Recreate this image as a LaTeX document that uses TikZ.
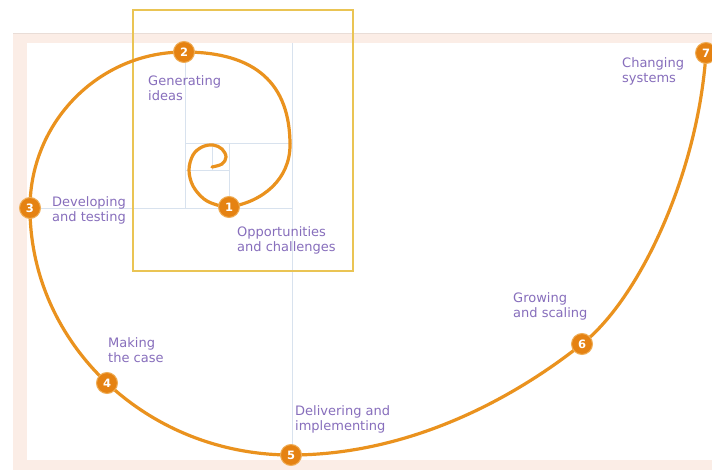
\documentclass[tikz,border=0pt]{standalone}
\usepackage{fontspec}
\setmainfont{DejaVu Sans}
\definecolor{spiral}{RGB}{234,146,30}
\definecolor{badge}{RGB}{229,130,18}
\definecolor{gold}{RGB}{234,196,84}
\definecolor{gridline}{RGB}{216,226,238}
\definecolor{frame}{RGB}{251,237,230}
\definecolor{labeltext}{RGB}{135,110,188}
\tikzset{
	stage/.style={circle,fill=badge,draw=spiral!75!white,line width=1pt,text=white,inner sep=0pt,minimum size=21pt,font=\fontsize{11.5}{11.5}\selectfont\bfseries},
	caption/.style={anchor=north west,inner sep=0pt,align=left,text=labeltext,font=\fontsize{13}{15.5}\selectfont}
}
\begin{document}
\begin{tikzpicture}[x=1pt,y=-1pt]
	\useasboundingbox (0,0) rectangle (712,470);

	% Draw background frame
	\fill[frame] (13,33) rectangle (712,470);
	\draw[frame!85!gray,line width=0.6pt] (13,33) -- (712,33);
	\fill[white] (27,43) rectangle (712,460);

	% Draw square grid
	\draw[gridline,line width=0.8pt] (27,208) -- (292,208) (292,43) -- (292,460) (185,43) -- (185,208) (185,143) -- (292,143) (229,143) -- (229,208) (185,170) -- (229,170) (212,143) -- (212,170);

	% Draw highlight box
	\draw[gold,line width=1.8pt] (133,10) rectangle (353,271);

	% Draw spiral
	\draw[spiral,line width=3.2pt,line cap=round] plot[smooth,tension=0.6] coordinates {(212,167) (222,164) (226,157) (222,149) (213,145) (202,147) (193,155) (189,170) (193,186) (204,199) (217,205) (229,207)}
		.. controls (263,202) and (290,179) .. (290,145)
		.. controls (290,84) and (256,52) .. (184,52)
		.. controls (99,52) and (30,122) .. (30,208)
		.. controls (30,344) and (147,455) .. (291,455)
		.. controls (401,455) and (504,406) .. (582,344)
		.. controls (640,298) and (698,173) .. (706,53);

	% Label stages
	\node[stage] (s1) at (229,207) {1};
	\node[stage] (s2) at (184,52) {2};
	\node[stage] (s3) at (30,208) {3};
	\node[stage] (s4) at (107,383) {4};
	\node[stage] (s5) at (291,455) {5};
	\node[stage] (s6) at (582,344) {6};
	\node[stage] (s7) at (706,53) {7};

	\node[caption] (c1) at (237,226) {Opportunities\\and challenges};
	\node[caption] (c2) at (148,75) {Generating\\ideas};
	\node[caption] (c3) at (52,196) {Developing\\and testing};
	\node[caption] (c4) at (108,337) {Making\\the case};
	\node[caption] (c5) at (295,405) {Delivering and\\implementing};
	\node[caption] (c6) at (513,292) {Growing\\and scaling};
	\node[caption] (c7) at (622,57) {Changing\\systems};
\end{tikzpicture}
\end{document}
